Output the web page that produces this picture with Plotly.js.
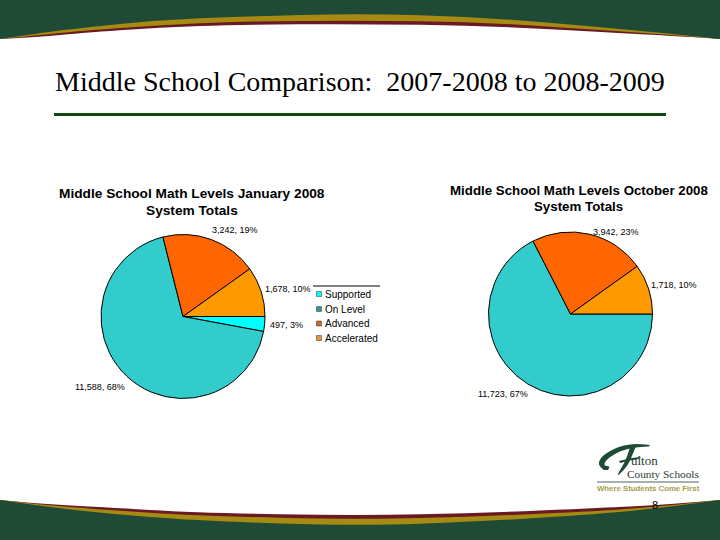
<!DOCTYPE html>
<html>
<head>
<meta charset="utf-8">
<script src="https://cdn.plot.ly/plotly-3.0.1.min.js"></script>
<style>html,body{margin:0;padding:0;background:#fff}#c{width:720px;height:540px}</style>
</head>
<body>
<div id="c"></div>
<script>
var slideTitle = "Middle School Comparison:\u00a0 2007-2008 to 2008-2009";
var legendLabels = ["Supported", "On Level", "Advanced", "Accelerated"];
var legendColors = ["#00ffff", "#339999", "#cc6633", "#e69933"];

var janTitle = "Middle School Math Levels January 2008";
var octTitle = "Middle School Math Levels October 2008";
var subTitle = "System Totals";

var janLabels = ["Supported", "On Level", "Advanced", "Accelerated"];
var janValues = [497, 11588, 3242, 1678];
var janPercents = [3, 68, 19, 10];
var janColors = ["#00ffff", "#33cccc", "#ff6600", "#ff9900"];

var octLabels = ["On Level", "Advanced", "Accelerated"];
var octValues = [11723, 3942, 1718];
var octPercents = [67, 23, 10];
var octColors = ["#33cccc", "#ff6600", "#ff9900"];

var W = 720, H = 540;
var px = function (x) { return x / W; };
var py = function (y) { return 1 - y / H; };
function pieDomain(cx, cy, r) {
  return { x: [px(cx - r), px(cx + r)], y: [py(cy + r), py(cy - r)] };
}
function pct(v, p) { return v.toLocaleString("en-US") + ", " + p + "%"; }
function note(text, x, y, size, opts) {
  opts = opts || {};
  return {
    text: text, x: px(x), y: py(y), xref: "paper", yref: "paper", showarrow: false, borderpad: 0,
    xanchor: opts.anchor || "center", yanchor: "middle", align: opts.align || "center",
    font: { family: opts.family || "Liberation Sans, Arial, sans-serif", size: size, color: opts.color || "#000" }
  };
}
function curve(pts) {
  var d = "M" + px(pts[0][0]) + "," + py(pts[0][1]);
  for (var i = 1; i < pts.length - 1; i++) {
    var mx = (pts[i][0] + pts[i + 1][0]) / 2, my = (pts[i][1] + pts[i + 1][1]) / 2;
    d += " Q" + px(pts[i][0]) + "," + py(pts[i][1]) + " " + px(mx) + "," + py(my);
  }
  var l = pts[pts.length - 1];
  d += " L" + px(l[0]) + "," + py(l[1]);
  return d;
}
function band(pts, edgeY, color) {
  var d = curve(pts) + " L" + px(720) + "," + py(edgeY) + " L" + px(0) + "," + py(edgeY) + " Z";
  return { type: "path", xref: "paper", yref: "paper", path: d, fillcolor: color, line: { width: 0 }, layer: "below" };
}
function blob(pts, color) {
  return { type: "path", xref: "paper", yref: "paper", path: curve(pts) + " Z", fillcolor: color, line: { width: 0 } };
}
var green = "#1e4a36", gold = "#a68a12", maroon = "#6a1a22";

var topMaroon = [[0,39],[40,37],[80,33],[160,27.5],[240,24.5],[360,24],[480,25.5],[600,32],[693,37],[720,39]];
var topGold   = [[0,39],[40,35],[80,31],[160,25],[240,21.5],[360,20.5],[480,22],[600,30],[693,36.5],[720,39]];
var topGreen  = [[0,39],[40,33],[80,28],[160,20],[240,16.5],[360,13.5],[480,17],[600,27],[693,36],[720,39]];
var botMaroon = [[0,500],[33,503.5],[100,507],[200,513],[360,515.5],[480,513],[600,508],[660,505],[720,500]];
var botGold   = [[0,500],[33,504],[100,509.5],[200,516],[360,519.5],[480,516.5],[600,511],[660,506.5],[720,500]];
var botGreen  = [[0,500],[33,505],[100,513],[200,521],[360,526],[480,521.5],[600,514],[660,508],[720,500]];

var logoCurl = [[604,470],[598,466],[600,458],[608,452],[618,447],[630,444],[642,444],[650,445],[650,446.5],[638,447],[626,449],[614,454],[605,461],[604,466],[610,466],[608,470]];
var logoStem = [[636,446],[632,456],[628,465],[621,473],[617,476],[620,470],[626,460],[630,447]];
var logoBar = [[619,461],[630,458],[641,457],[641,458.5],[630,460.5],[620,463]];

var shapes = [
  band(topMaroon, 0, maroon), band(topGold, 0, gold), band(topGreen, 0, green),
  band(botMaroon, 540, maroon), band(botGold, 540, gold), band(botGreen, 540, green),
  { type: "line", xref: "paper", yref: "paper", x0: px(54), x1: px(666), y0: py(114.5), y1: py(114.5), line: { color: "#0f4a10", width: 3 } },
  { type: "line", xref: "paper", yref: "paper", x0: px(313), x1: px(380), y0: py(286), y1: py(286), line: { color: "#000", width: 1 } },
  { type: "line", xref: "paper", yref: "paper", x0: px(597), x1: px(699), y0: py(482), y1: py(482), line: { color: "#8d9490", width: 1.5 } },
  blob(logoCurl, green), blob(logoStem, green), blob(logoBar, green)
];

var legendY = [294, 309, 323.5, 338];
legendLabels.forEach(function (name, i) {
  shapes.push({
    type: "rect", xref: "paper", yref: "paper",
    x0: px(316.5), x1: px(321.5), y0: py(legendY[i] + 2.5), y1: py(legendY[i] - 2.5),
    fillcolor: legendColors[i], line: { color: "#333", width: 0.5 }
  });
});

var annotations = [
  note(slideTitle, 360, 81, 28, { family: "Liberation Serif, Times New Roman, serif" }),
  note("<b>" + janTitle + "</b>", 191.5, 193.5, 13.7),
  note("<b>" + subTitle + "</b>", 192, 210.5, 13.7),
  note("<b>" + octTitle + "</b>", 578.5, 190, 13.3),
  note("<b>" + subTitle + "</b>", 578, 206, 13.3),
  note(pct(janValues[2], janPercents[2]), 235, 229.5, 9),
  note(pct(janValues[3], janPercents[3]), 288, 289, 9),
  note(pct(janValues[0], janPercents[0]), 286, 325, 9),
  note(pct(janValues[1], janPercents[1]), 100, 387, 9),
  note(pct(octValues[1], octPercents[1]), 616, 232, 9),
  note(pct(octValues[2], octPercents[2]), 674, 285, 9),
  note(pct(octValues[0], octPercents[0]), 503, 394, 9),
  note("ulton", 630, 460, 13, { anchor: "left", family: "Liberation Serif, serif", color: "#2a3a33" }),
  note("County Schools", 626, 474, 11.3, { anchor: "left", family: "Liberation Serif, serif", color: "#2a3a33" }),
  note("<b>Where Students Come First</b>", 648, 488, 7.8, { color: "#a89a48" }),
  note("8", 655, 505, 11)
];
legendLabels.forEach(function (name, i) {
  annotations.push(note(name, 324, legendY[i], 10, { anchor: "left" }));
});

var traces = [
  {
    type: "pie", labels: janLabels, values: janValues, sort: false, direction: "clockwise", rotation: 90,
    marker: { colors: janColors, line: { color: "#000", width: 1 } },
    textinfo: "none", hoverinfo: "label+value+percent", showlegend: false,
    domain: pieDomain(183, 316.5, 82)
  },
  {
    type: "pie", labels: octLabels, values: octValues, sort: false, direction: "clockwise", rotation: 90,
    marker: { colors: octColors, line: { color: "#000", width: 1 } },
    textinfo: "none", hoverinfo: "label+value+percent", showlegend: false,
    domain: pieDomain(570.5, 314, 82)
  }
];

Plotly.newPlot("c", traces, {
  width: W, height: H,
  margin: { l: 0, r: 0, t: 0, b: 0, pad: 0 },
  paper_bgcolor: "#fff",
  showlegend: false,
  shapes: shapes,
  annotations: annotations
}, { displayModeBar: false, staticPlot: true });
</script>
</body>
</html>
